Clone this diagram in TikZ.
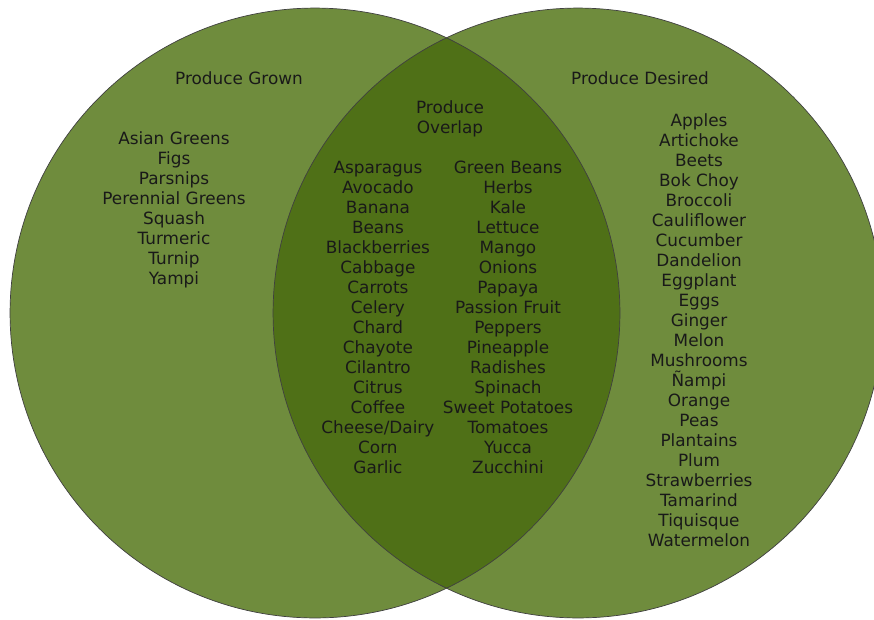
\documentclass[tikz,border=0pt]{standalone}
\usepackage{fontspec}
\setmainfont{DejaVu Sans}
\usetikzlibrary{positioning}
\usetikzlibrary{matrix}

\definecolor{setgreen}{RGB}{111,140,61}
\definecolor{overlapgreen}{RGB}{79,112,23}

\tikzset{
  produce/.style={font=\fontsize{9.6}{11}\selectfont, text=black!90},
  produce list/.style={matrix of nodes
    , anchor=north
    , inner sep=0pt
    , row sep=0pt
    , nodes={ produce
            , text height=0.28cm
            , text depth=0.12cm
            , inner sep=0pt
            , outer sep=0pt
            }
    },
  set edge/.style={draw=black!75, line width=0.4pt}
}

\begin{document}
\begin{tikzpicture}[x=0.02cm, y=-0.02cm]

  \useasboundingbox (0,0) rectangle (874,619);

  \coordinate (grownset) at (315,313);
  \coordinate (desiredset) at (578,313);

  \fill [setgreen] (grownset) circle [radius=6.1cm];
  \fill [setgreen] (desiredset) circle [radius=6.1cm];
  \begin{scope}
    \clip (grownset) circle [radius=6.1cm];
    \fill [overlapgreen] (desiredset) circle [radius=6.1cm];
  \end{scope}
  \draw [set edge] (grownset) circle [radius=6.1cm];
  \draw [set edge] (desiredset) circle [radius=6.1cm];

  \node (growntitle) [produce, anchor=base] at (239,84) {Produce Grown};
  \node (desiredtitle) [produce, anchor=base] at (640,84) {Produce Desired};

  \matrix (overlaptitle) at (450,99) [produce list]
  {
    Produce \\
    Overlap \\
  };

  \matrix (grownlist) at (174,130) [produce list]
  {
    Asian Greens \\
    Figs \\
    Parsnips \\
    Perennial Greens \\
    Squash \\
    Turmeric \\
    Turnip \\
    Yampi \\
  };

  \matrix (overlaplist) at (443,159) [produce list
    , nodes={minimum width=2.6cm}]
  {
    Asparagus & Green Beans \\
    Avocado & Herbs \\
    Banana & Kale \\
    Beans & Lettuce \\
    Blackberries & Mango \\
    Cabbage & Onions \\
    Carrots & Papaya \\
    Celery & Passion Fruit \\
    Chard & Peppers \\
    Chayote & Pineapple \\
    Cilantro & Radishes \\
    Citrus & Spinach \\
    Coffee & Sweet Potatoes \\
    Cheese/Dairy & Tomatoes \\
    Corn & Yucca \\
    Garlic & Zucchini \\
  };

  \matrix (desiredlist) at (699,112) [produce list]
  {
    Apples \\
    Artichoke \\
    Beets \\
    Bok Choy \\
    Broccoli \\
    Cauliflower \\
    Cucumber \\
    Dandelion \\
    Eggplant \\
    Eggs \\
    Ginger \\
    Melon \\
    Mushrooms \\
    Ñampi \\
    Orange \\
    Peas \\
    Plantains \\
    Plum \\
    Strawberries \\
    Tamarind \\
    Tiquisque \\
    Watermelon \\
  };

\end{tikzpicture}
\end{document}
